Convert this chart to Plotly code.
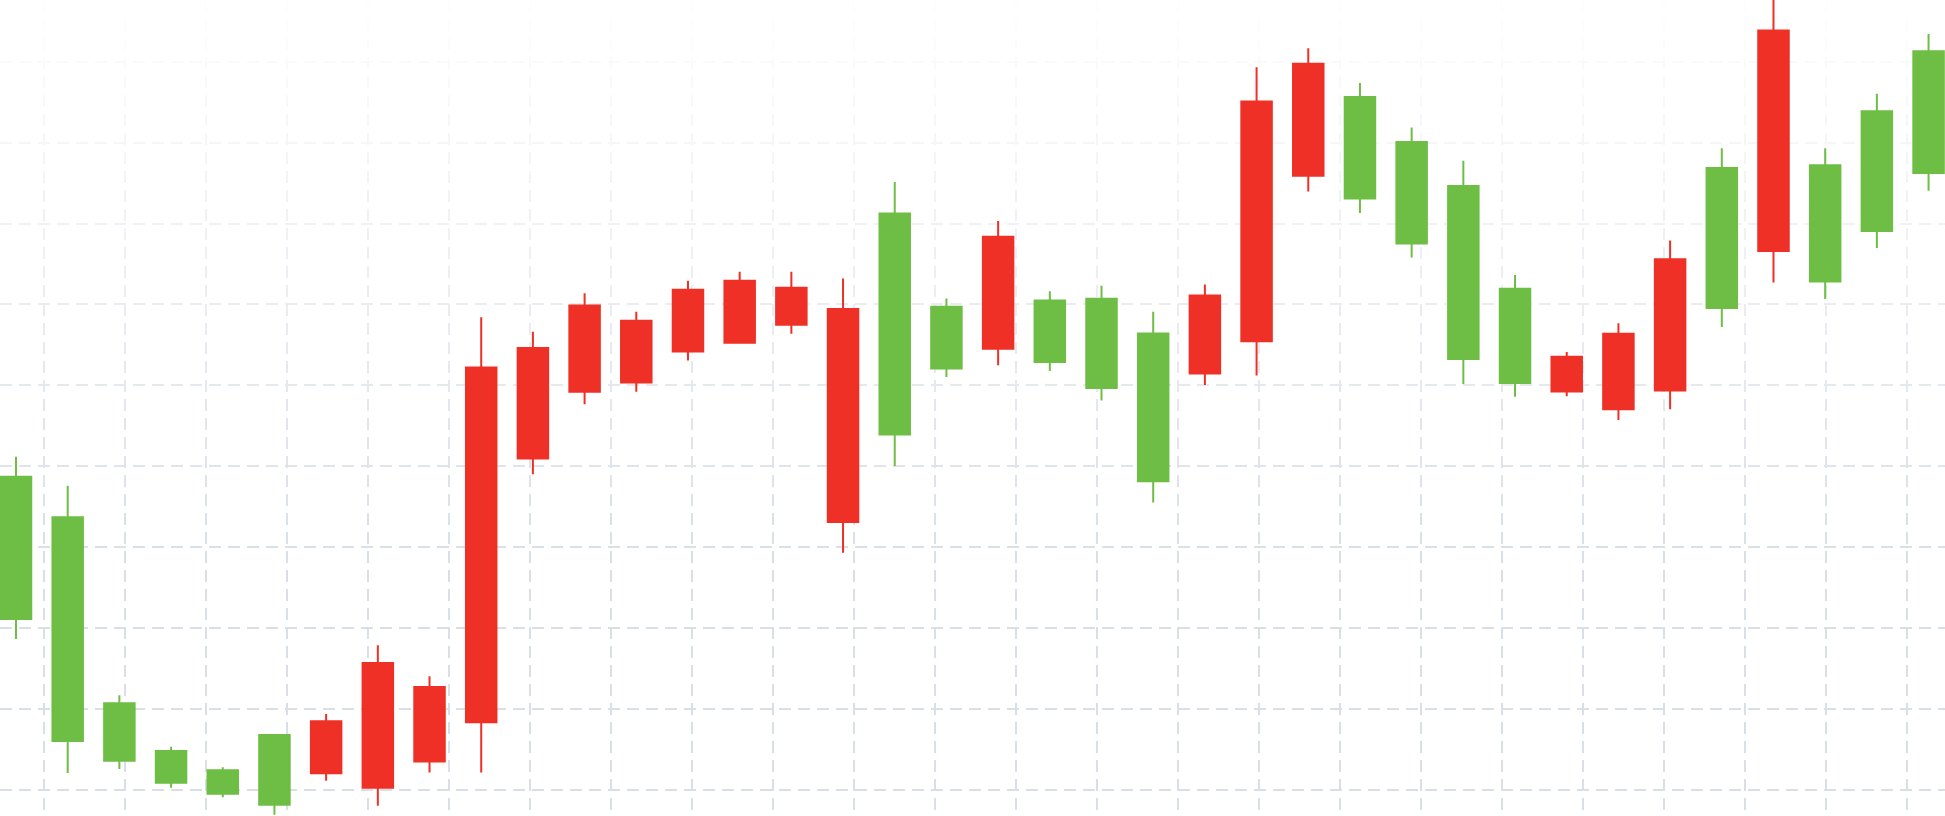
import plotly.graph_objects as go

# ---- data (candle index, open / high / low / close) ----
idx = list(range(38))
open_ = [121.13, 106.06, 103.62, 100.90, 99.54, 98.18, 108.49, 115.69, 112.74, 152.20,
         154.63, 159.87, 157.98, 161.81, 162.94, 162.06, 159.44, 143.93, 152.10, 168.38,
         152.88, 149.67, 138.16, 161.10, 185.10, 189.76, 173.10, 167.55, 153.27, 150.30,
         153.53, 156.38, 165.58, 159.58, 193.85, 162.84, 169.09, 176.25]
high = [141.19, 137.61, 111.70, 105.35, 102.81, 106.80, 109.39, 117.88, 114.05, 158.42,
        156.62, 161.38, 159.10, 162.94, 164.05, 164.05, 163.22, 175.14, 160.75, 170.32,
        161.63, 162.31, 159.10, 162.46, 189.32, 191.66, 187.37, 181.88, 177.76, 163.64,
        154.14, 157.69, 167.92, 179.31, 198.86, 179.31, 186.04, 193.43]
low = [118.66, 102.10, 102.60, 100.28, 99.10, 96.95, 101.15, 98.06, 102.15, 102.15,
       139.03, 147.68, 149.23, 153.08, 155.26, 156.38, 129.31, 140.04, 151.04, 152.48,
       151.78, 148.12, 135.53, 150.06, 151.22, 173.97, 171.31, 165.81, 150.17, 148.60,
       148.65, 145.74, 147.05, 157.21, 162.73, 160.69, 166.97, 174.06]
close = [138.72, 133.70, 110.71, 104.82, 102.43, 106.80, 102.06, 100.28, 103.51, 108.37,
         140.98, 149.23, 150.35, 154.19, 155.26, 157.49, 133.11, 171.24, 159.73, 154.54,
         160.50, 160.70, 156.43, 151.47, 155.45, 175.92, 185.64, 180.09, 174.64, 161.96,
         149.26, 147.05, 149.38, 176.87, 166.62, 177.21, 183.89, 191.30]

GREEN = "#6EBE45"
RED = "#EE3026"
W, H = 1945, 816
X_RANGE = [-0.3095, 37.318]
Y_RANGE = [96.787, 197.63]

fig = go.Figure(go.Candlestick(
    x=idx, open=open_, high=high, low=low, close=close,
    increasing=dict(line=dict(color=GREEN, width=2), fillcolor=GREEN),
    decreasing=dict(line=dict(color=RED, width=2), fillcolor=RED),
    whiskerwidth=0,
    hoverinfo="skip",
))

grid = dict(showgrid=True, gridcolor="rgb(216,223,231)", gridwidth=1.6,
            griddash="12px,7px", zeroline=False, showline=False,
            showticklabels=False, ticks="")

fig.update_xaxes(range=X_RANGE, tick0=0.5475, dtick=1.5671,
                 rangeslider=dict(visible=False), **grid)
fig.update_yaxes(range=Y_RANGE, tick0=100, dtick=10, **grid)


def px_to_val(p):
    return Y_RANGE[1] - p * (Y_RANGE[1] - Y_RANGE[0]) / H


# white fade over the grid toward the top (drawn between grid and candles)
shapes = []
step = 6
fade_end = 570
for p in range(0, fade_end, step):
    yc = p + step / 2
    a = max(0.0, 1 - yc / fade_end) * 0.95
    shapes.append(dict(type="rect", xref="x", yref="y",
                       x0=X_RANGE[0] - 1, x1=X_RANGE[1] + 1,
                       y0=px_to_val(p + step), y1=px_to_val(p) + (0.5 if p == 0 else 0),
                       fillcolor=f"rgba(255,255,255,{a:.3f})",
                       line=dict(width=0), layer="between"))

fig.update_layout(
    width=W, height=H, margin=dict(l=0, r=0, t=0, b=0),
    paper_bgcolor="white", plot_bgcolor="white",
    showlegend=False, boxgap=0.41, boxgroupgap=0,
    shapes=shapes,
)

fig.write_html("out.html", config={"displayModeBar": False},
               post_script="document.body.style.margin='0';document.body.style.overflow='hidden';")
